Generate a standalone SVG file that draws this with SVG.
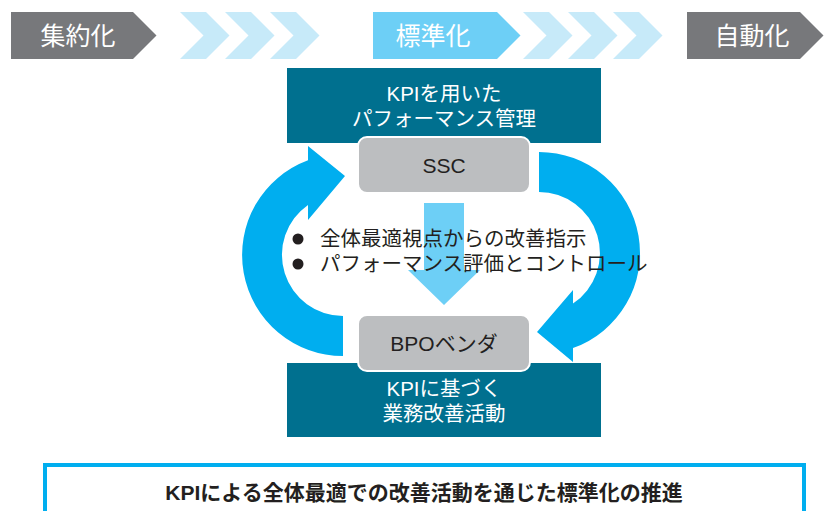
<svg xmlns="http://www.w3.org/2000/svg" width="827" height="511" viewBox="0 0 827 511">
<style>
.lbl{font-family:"Liberation Sans","Noto Sans CJK JP",sans-serif;fill:#ffffff;text-anchor:middle}
.dk{font-family:"Liberation Sans","Noto Sans CJK JP",sans-serif;fill:#231f20}
.teal{fill:#00708f}
.gbox{fill:#bcbec0;stroke:#ffffff;stroke-width:2}
.chev{fill:#c7eaf9}
.cyc{fill:#00aeef}
</style>
<defs>
<polygon id="chev" points="0,12 26,12 49.5,35.5 26,59 0,59 23.5,35.5"/>
</defs>
<rect width="827" height="511" fill="#ffffff"/>

<g id="stage-shuyaku">
<polygon points="11,12 133,12 156.5,35.5 133,59 11,59" fill="#77787b"/>
<text class="lbl" x="78" y="45" font-size="25">集約化</text>
</g>
<g id="chevrons-1">
<use href="#chev" x="180" class="chev"/>
<use href="#chev" x="225" class="chev"/>
<use href="#chev" x="270" class="chev"/>
</g>
<g id="stage-hyojun">
<polygon points="373,12 497,12 520.5,35.5 497,59 373,59" fill="#6dcff6"/>
<text class="lbl" x="433" y="45" font-size="25">標準化</text>
</g>
<g id="chevrons-2">
<use href="#chev" x="523" class="chev"/>
<use href="#chev" x="568" class="chev"/>
<use href="#chev" x="613" class="chev"/>
</g>
<g id="stage-jidou">
<polygon points="687,12 800,12 823.5,35.5 800,59 687,59" fill="#77787b"/>
<text class="lbl" x="752" y="45" font-size="25">自動化</text>
</g>

<g id="connectors">
<path class="cyc" d="M343,356 A101,101 0 0 1 308,160.3 L308,146 L345,176 L308,220 L308,205 A61,61 0 0 0 343,316 Z"/>
<path class="cyc" d="M539,152 A101,101 0 0 1 573,348.1 L573,362 L537,332 L573,290 L573,303.6 A61,61 0 0 0 539,192 Z"/>
<polygon points="424,203 464,203 464,270 480,270 444,305 408,270 424,270" fill="#6dcff6"/>
</g>

<g id="kpi-management">
<rect class="teal" x="287" y="68" width="314" height="75"/>
<text class="lbl" x="444" y="101" font-size="20.5">KPIを用いた</text>
<text class="lbl" x="444" y="126" font-size="20.5">パフォーマンス管理</text>
</g>
<g id="ssc">
<rect class="gbox" x="358" y="137" width="172" height="56" rx="9"/>
<text class="dk" x="444" y="173" font-size="21" text-anchor="middle">SSC</text>
</g>

<g id="bullets">
<circle cx="298" cy="239" r="5.5" fill="#231f20"/>
<circle cx="298" cy="264" r="5.5" fill="#231f20"/>
<text class="dk" x="320" y="246" font-size="20.5">全体最適視点からの改善指示</text>
<text class="dk" x="320" y="271" font-size="20.5">パフォーマンス評価とコントロール</text>
</g>

<g id="kpi-activity">
<rect class="teal" x="287" y="363" width="314" height="74"/>
<text class="lbl" x="444" y="396" font-size="20.5">KPIに基づく</text>
<text class="lbl" x="444" y="421" font-size="20.5">業務改善活動</text>
</g>
<g id="bpo">
<rect class="gbox" x="358" y="315" width="172" height="56" rx="9"/>
<text class="dk" x="444" y="351" font-size="21" text-anchor="middle">BPOベンダ</text>
</g>

<g id="banner">
<rect x="45" y="465" width="759" height="60" fill="#ffffff" stroke="#00aeef" stroke-width="4"/>
<text class="dk" x="424" y="500" font-size="21" font-weight="600" text-anchor="middle">KPIによる全体最適での改善活動を通じた標準化の推進</text>
</g>
</svg>
